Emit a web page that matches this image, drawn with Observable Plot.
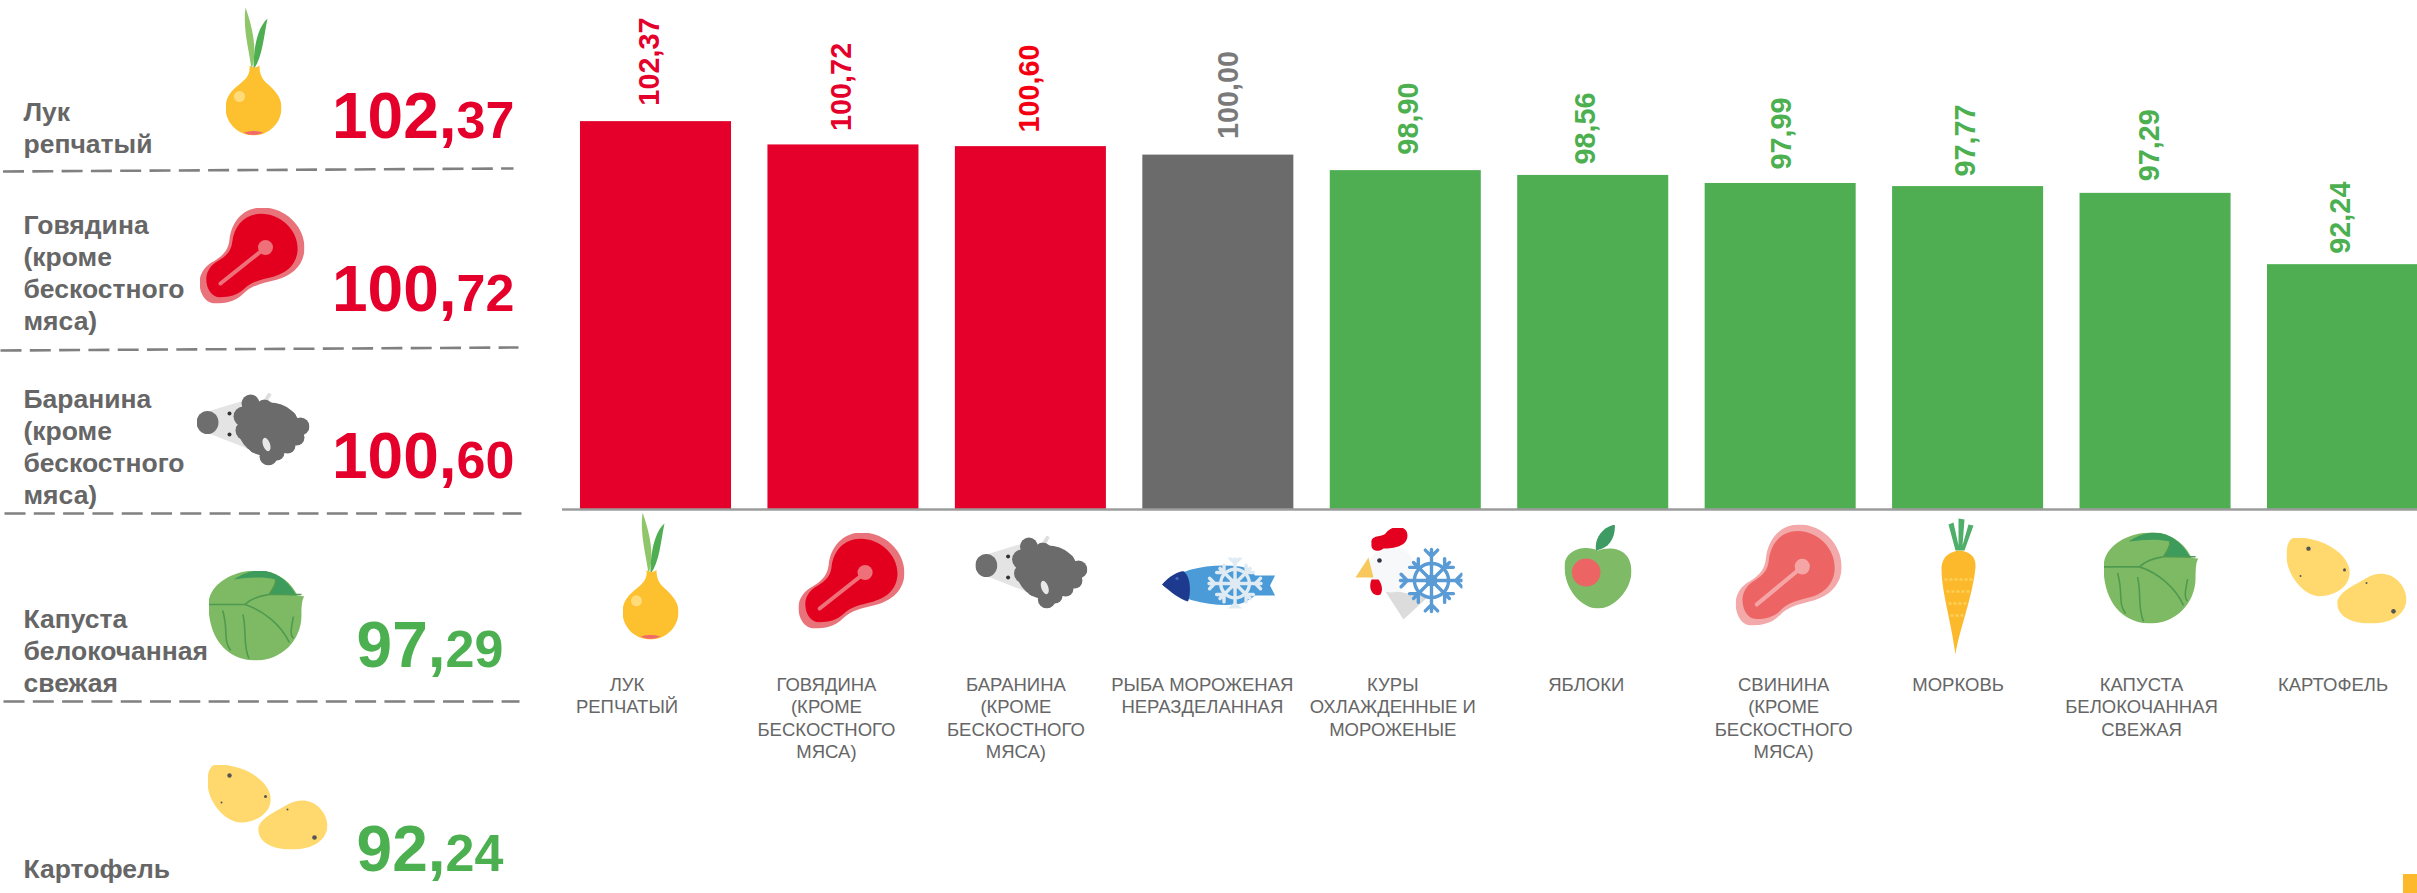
<!DOCTYPE html>
<html lang="ru">
<head>
<meta charset="utf-8">
<title>Индексы цен</title>
<script src="https://cdn.jsdelivr.net/npm/d3@7"></script>
<script src="https://cdn.jsdelivr.net/npm/@observablehq/plot@0.6"></script>
<style>
html,body{margin:0;padding:0;background:#fff;overflow:hidden}
#page{position:relative;width:2417px;height:893px;font-family:"Liberation Sans",Arial,sans-serif}
#page>div,#page>svg{position:absolute}
#mark{left:2403px;top:874px;width:14px;height:19px;background:#fdb92c}
</style>
</head>
<body>
<div id="page"><div id="left" style="left:0;top:0"></div><div id="chart" style="left:562px;top:0"></div><div id="mark"></div></div>
<script>
// ---- data ----
const categories = ["ЛУК\nРЕПЧАТЫЙ","ГОВЯДИНА\n(КРОМЕ\nБЕСКОСТНОГО\nМЯСА)","БАРАНИНА\n(КРОМЕ\nБЕСКОСТНОГО\nМЯСА)","РЫБА МОРОЖЕНАЯ\nНЕРАЗДЕЛАННАЯ","КУРЫ\nОХЛАЖДЕННЫЕ И\nМОРОЖЕНЫЕ","ЯБЛОКИ","СВИНИНА\n(КРОМЕ\nБЕСКОСТНОГО\nМЯСА)","МОРКОВЬ","КАПУСТА\nБЕЛОКОЧАННАЯ\nСВЕЖАЯ","КАРТОФЕЛЬ"];
const values = [102.37,100.72,100.60,100.00,98.90,98.56,97.99,97.77,97.29,92.24];
const iconKeys = ["onion","beef","sheep","fish","chicken","apple","pork","carrot","cabbage","potato"];
const sideNames = ["Лук\nрепчатый","Говядина\n(кроме\nбескостного\nмяса)","Баранина\n(кроме\nбескостного\nмяса)","Капуста\nбелокочанная\nсвежая","Картофель"];
const sideIntegers = ["102,","100,","100,","97,","92,"];
const sideDecimals = ["37","72","60","29","24"];
const sideIcons = ["onion","beef","sheep","cabbage","potato"];

// ---- layout ----
const base = 74.9;
const C = {red:"#e4002b",gray:"#6b6b6b",green:"#4fae52",text:"#666666"};
const labelFill = [C.red,C.red,"#f50012","#7a7a7a","#4caf50","#4caf50","#4caf50","#4caf50","#4caf50","#4caf50"];
const labelDx = [-6,-1.5,-1,10,3,-7,1,-2,-6,-2];
const labelGap = [16,14,14,16,16,11,14,10,12,11];
const catDx = [-29,-17,-15,-16,-13,-7,3,-10,-14,-10];
const iconDx = [-5.5,8,0.5,0.7,3.2,4.8,8,-7.6,-4.5,3.5];
const iconDy = [575.5,580,571.5,582.5,573,566,574.5,585.5,577.5,580];
const iconW = [56,106,112,114,107,67,106,40,95,120];
const iconH = [127,96,73,51,92,84,101,137,91,86];

const sideNameY = [120,233,407,627,877];
const sideBaseY = [137,310,477,666,870];
const sideSplitX = [456,456,456,445,445];
const sideIconBox = [[225,7,56,128],[199,207,105,96],[196,392,113,73],[208,570,96,90],[207,764,120,85]];
const dashes = [[2.5,171,513,168],[0,350,518,347],[4,513,521,513],[3,701,519,701]];

// ---- icon artwork ----
function flake(cx,cy,r,col,sw,ring){
  let s=`<g transform="translate(${cx} ${cy})" stroke="${col}" stroke-width="${sw}" fill="none" stroke-linecap="round">`;
  s+=`<circle r="${r*ring}"/>`;
  for(let a=0;a<360;a+=45){
    const long=a%90===0?1:0.82;
    s+=`<g transform="rotate(${a})"><path d="M0 0V${-r*long}M${-r*.2} ${-r*(long-.02)}L0 ${-r*(long-.22)}L${r*.2} ${-r*(long-.02)}"/></g>`;
  }
  return s+`<circle r="${r*.14}" fill="${col}"/></g>`;
}
const meat=(inner,outer,bone)=>{
  const p="M63 0C85 0 105 18 105 40C105 58 92 68 78 72C62 76 52 78 44 86C36 94 26 96 16 96C6 96 0 86 0 75C0 66 6 58 14 54C24 48 29 42 30 32C32 14 44 0 63 0Z";
  return [105,96,`<path d="${p}" fill="${outer}"/><path d="${p}" fill="${inner}" transform="translate(52 48) scale(.87) translate(-52 -48)"/><path d="M21 76L65 41" stroke="${bone}" stroke-width="4" stroke-linecap="round"/><circle cx="66" cy="40" r="7.5" fill="${bone}"/>`];
};
const art = {
  onion:[56,128,`<path d="M20 0C17 22 24 44 26 62C31 48 30 28 20 0Z" fill="#8fc66a"/><path d="M42 11C32 20 28 40 28 62C37 50 38 30 42 11Z" fill="#4fae52"/><path d="M24 58C25 68 20 72 10 80C3 86 0 93 0 100C0 116 13 128 28 128C43 128 56 116 56 100C56 90 50 84 44 78C36 72 34 66 34 58Q29 62 24 58Z" fill="#fdc02f"/><path d="M18 125Q28 130 38 125Q28 122 18 125Z" fill="#f0696b"/><circle cx="14" cy="89" r="5.5" fill="#ffdb7a"/>`],
  beef:meat("#e3001f","#e9737a","#ee7078"),
  pork:meat("#ec6464","#f3a9a9","#f5a5a5"),
  sheep:[113,73,`<path d="M68 6L72 0L75 2L71 9Z" fill="#ddd"/><path d="M8 20L54 6L56 58L10 40Z" fill="#e4e4e4"/><ellipse cx="11" cy="30" rx="11" ry="11.5" fill="#6e6e6e"/><circle cx="33" cy="21" r="2" fill="#333"/><circle cx="33" cy="42" r="2" fill="#333"/><g fill="#6b6b6b"><ellipse cx="73" cy="37" rx="31" ry="27"/><circle cx="54" cy="11" r="9"/><circle cx="68" cy="16" r="9"/><circle cx="80" cy="21" r="8"/><circle cx="92" cy="26" r="8"/><circle cx="104" cy="34" r="9"/><circle cx="100" cy="45" r="8"/><circle cx="91" cy="53" r="8"/><circle cx="80" cy="60" r="8"/><circle cx="72" cy="64" r="9"/><circle cx="60" cy="53" r="8"/><circle cx="49" cy="38" r="10"/><circle cx="47" cy="24" r="10"/></g><ellipse cx="70" cy="52" rx="3.5" ry="7" fill="#e8e8e8" transform="rotate(-20 70 52)"/>`],
  fish:[114,51,`<path d="M0 27C20 10 50 6 78 9C85 10 90 14 93 18L113 18L108 28L113 38L93 38C88 42 82 46 74 47C50 49 20 44 0 27Z" fill="#4a9bd8"/><path d="M0 27C8 18 18 13 22 14C29 20 29 36 26 44C18 42 8 34 0 27Z" fill="#1d3a8f"/><circle cx="15" cy="21" r="1.6" fill="#4a6ab8"/>${flake(73,26,26,"#dfeaf3",3.4,.55)}`],
  chicken:[107,92,`<path d="M28 61L72 70L48 92Z" fill="#dcdcdc"/><circle cx="36" cy="42" r="23" fill="#f7f8fa"/><path d="M0 50L13 30L18 50Z" fill="#f7c95c"/><path d="M16 52C12 62 18 70 25 67C28 62 26 56 23 52Z" fill="#e4001f"/><path d="M16 16C15 7 26 10 30 6C36 -3 52 -3 52 8C52 19 38 21 28 21C23 25 15 24 16 16Z" fill="#e4001f"/><circle cx="24" cy="33" r="2.3" fill="#334"/>${flake(76,53,31,"#5b9bd5",3.4,.55)}`],
  apple:[68,84,`<path d="M34 26C45 22 67 22 68 46C68 66 50 84 34 84C18 84 0 66 0 42C0 24 22 20 34 26Z" fill="#7fbb66"/><path d="M32 26C30 14 38 3 51 0C52 12 46 24 32 26Z" fill="#3d9b63"/><ellipse cx="22" cy="48" rx="14.5" ry="14" fill="#ec6464"/>`],
  carrot:[40,137,`<path d="M15 33L8 7L13 5L18 28L18 1L24 2L22 28L28 7L33 8L24 33Z" fill="#4fae6a"/><path d="M19 33C10 34 2 38 1 50C1 75 10 100 15 137C18 115 32 80 35 50C36 38 28 34 19 33Z" fill="#fcb92b"/><path d="M4 62H33M6 74H31M8 86H28M10 98H24" stroke="#fdd05a" stroke-width="2.5" stroke-dasharray="3 2"/>`],
  cabbage:[95,90,`<path d="M0 34C0 15 22 0 48 0C68 0 82 12 88 25L95 26C93 28 92 32 92 45C92 70 72 90 47 90C20 90 0 70 0 34Z" fill="#7eba63"/><path d="M25 9C35 2 45 0 50 0C68 0 80 12 87 25L60 24C64 18 68 12 66 9C55 6 40 7 25 9Z" fill="#3d9b5c"/><path d="M0 34H36C55 40 72 55 80 72M36 34C44 26 55 25 60 24H92M60 24C64 18 68 12 66 9M14 40C20 60 14 70 22 80M34 44C38 60 34 76 40 88M84 46C82 58 80 64 84 68" fill="none" stroke="#4f9a50" stroke-width="1.6"/>`],
  potato:[120,85,`<path d="M10 0C30 0 55 10 62 28C68 46 50 58 33 58C18 58 0 38 0 18C0 6 3 0 10 0Z" fill="#ffd96e"/><path d="M51 62C55 52 70 46 82 39C100 30 118 42 120 60C120 76 105 85 85 85C65 85 49 78 51 62Z" fill="#ffd96e"/><g fill="#555"><circle cx="22" cy="11" r="2.2"/><circle cx="58" cy="32" r="1.5"/><circle cx="14" cy="38" r="1"/><circle cx="80" cy="45" r="1"/><circle cx="107" cy="73" r="2.3"/></g>`]
};
const iconSrc = k => { const [w,h,body]=art[k]; return "data:image/svg+xml,"+encodeURIComponent(`<svg xmlns="http://www.w3.org/2000/svg" viewBox="0 0 ${w} ${h}" preserveAspectRatio="none">${body}</svg>`); };

// ---- main chart ----
const rows = categories.map((c,i)=>({c,i,value:values[i],icon:iconKeys[i],status:values[i]>100?"up":values[i]<100?"down":"same"}));
const fmt = v => v.toFixed(2).replace(".",",");
const font = "Liberation Sans, Arial, sans-serif";
const catFs = 18.5, catLead = 22.3;

const chart = Plot.plot({
  width:1855, height:893, margin:0,
  style:{background:"transparent",fontFamily:font},
  x:{domain:categories,range:[18,1856],paddingInner:0.1943,paddingOuter:0,round:false,axis:null},
  y:{domain:[base,110],range:[509,13.4],axis:null},
  color:{domain:["up","same","down"],range:[C.red,C.gray,C.green]},
  marks:[
    Plot.barY(rows,{x:"c",y1:()=>base,y2:"value",fill:"status"}),
    Plot.ruleY([base],{stroke:"#9c9c9c",strokeWidth:2.4}),
    ...rows.flatMap(r=>[
      Plot.text([r],{x:"c",y:"value",text:d=>fmt(d.value),rotate:-90,textAnchor:"start",lineAnchor:"middle",
        dx:labelDx[r.i],dy:-labelGap[r.i],fontSize:28.8,fontWeight:"bold",fill:labelFill[r.i]}),
      Plot.image([r],{x:"c",frameAnchor:"top",dx:iconDx[r.i],dy:iconDy[r.i],width:iconW[r.i],height:iconH[r.i],
        preserveAspectRatio:"none",src:d=>iconSrc(d.icon)}),
      ...r.c.split("\n").map((line,k)=>Plot.text([r],{x:"c",frameAnchor:"top",text:()=>line,dx:catDx[r.i],
        dy:690.5-0.71*catFs+k*catLead,lineAnchor:"top",textAnchor:"middle",fontSize:catFs,fill:C.text}))
    ])
  ]
});
document.getElementById("chart").append(chart);

// ---- left panel ----
const side = sideNames.map((name,i)=>({name,int:sideIntegers[i],dec:sideDecimals[i],icon:sideIcons[i],
  nameY:sideNameY[i],baseY:sideBaseY[i],splitX:sideSplitX[i],
  bx:sideIconBox[i][0]+sideIconBox[i][2]/2,by:sideIconBox[i][1]+sideIconBox[i][3]/2,bw:sideIconBox[i][2],bh:sideIconBox[i][3],
  col:i<3?"#e4002b":"#4caf50"}));
const sideLines = side.flatMap(s=>s.name.split("\n").map((line,k)=>({line,y:s.nameY+k*32})));
const lblFs=26.5;
const left = Plot.plot({
  width:562,height:893,margin:0,
  style:{background:"transparent",fontFamily:font},
  x:{type:"identity"},y:{type:"identity"},
  color:{type:"identity"},
  marks:[
    Plot.link(dashes,{x1:d=>d[0],y1:d=>d[1],x2:d=>d[2],y2:d=>d[3],stroke:"#808080",strokeWidth:2.6,strokeDasharray:"21 8.3"}),
    Plot.text(sideLines,{x:()=>23,y:"y",text:"line",textAnchor:"start",lineAnchor:"bottom",fontSize:lblFs,fontWeight:"bold",fill:C.text}),
    Plot.image(side,{x:"bx",y:"by",width:"bw",height:"bh",preserveAspectRatio:"none",src:d=>iconSrc(d.icon)}),
    Plot.text(side,{x:"splitX",y:"baseY",text:"int",textAnchor:"end",lineAnchor:"bottom",fontSize:64,fontWeight:"bold",fill:"col"}),
    Plot.text(side,{x:"splitX",y:"baseY",text:"dec",textAnchor:"start",lineAnchor:"bottom",fontSize:52,fontWeight:"bold",fill:"col"})
  ]
});
document.getElementById("left").append(left);
</script>
</body>
</html>
